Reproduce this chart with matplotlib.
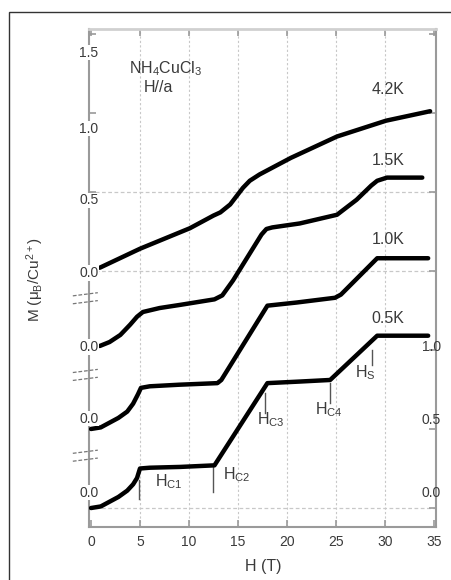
import matplotlib
matplotlib.use("Agg")
import matplotlib.pyplot as plt
from matplotlib.patches import Rectangle
from matplotlib.transforms import blended_transform_factory

plt.rcParams["font.family"] = ["Liberation Sans", "DejaVu Sans"]
plt.rcParams["mathtext.fontset"] = "custom"
plt.rcParams["mathtext.rm"] = "Liberation Sans"
plt.rcParams["mathtext.it"] = "Liberation Sans:italic"

TEXT = "#3a3a3a"
SPINE = "#9a9a9a"
GRID = "#c8c8c8"

# magnetization M (mu_B/Cu2+) against field H (T)
h_05 = [0.0, 1.0, 1.9, 2.8, 3.7, 4.3, 4.7, 5.0, 6.0, 9.1, 12.6, 18.0, 21.3, 24.4, 29.2, 34.4]
m_05 = [0.0, 0.01, 0.04, 0.07, 0.11, 0.15, 0.19, 0.25, 0.255, 0.26, 0.27, 0.79, 0.80, 0.81, 1.09, 1.09]

h_10 = [0.0, 1.0, 1.9, 2.8, 3.7, 4.3, 4.8, 5.1, 6.0, 9.0, 12.9, 13.3, 18.0, 21.0, 24.9, 25.5, 29.2, 34.4]
m_10 = [0.0, 0.01, 0.04, 0.07, 0.11, 0.16, 0.22, 0.26, 0.27, 0.28, 0.29, 0.31, 0.78, 0.80, 0.83, 0.85, 1.08, 1.08]

h_15 = [0.9, 1.9, 3.0, 4.0, 4.7, 5.3, 7.0, 9.1, 12.6, 13.4, 14.5, 17.4, 17.9, 18.5, 21.3, 25.1, 27.1, 28.6, 29.2, 30.2, 33.8]
m_15 = [0.025, 0.05, 0.095, 0.16, 0.21, 0.24, 0.265, 0.285, 0.32, 0.345, 0.44, 0.73, 0.765, 0.775, 0.80, 0.855, 0.95, 1.04, 1.07, 1.09, 1.09]

h_42 = [0.9, 5.0, 10.1, 12.5, 13.2, 14.2, 15.5, 16.2, 17.2, 20.4, 25.1, 30.1, 34.6]
m_42 = [0.02, 0.14, 0.27, 0.35, 0.37, 0.42, 0.525, 0.57, 0.61, 0.715, 0.85, 0.95, 1.01]

curves = [(h_05, m_05), (h_10, m_10), (h_15, m_15), (h_42, m_42)]
temps = ["0.5K", "1.0K", "1.5K", "4.2K"]
offsets = [0.0, 0.5, 1.0, 1.5]
temp_label_y = [1.20, 1.70, 2.20, 2.65]

# critical fields marked under the 0.5K curve
crit_names = ["H$_{\\mathrm{C1}}$", "H$_{\\mathrm{C2}}$", "H$_{\\mathrm{C3}}$", "H$_{\\mathrm{C4}}$", "H$_{\\mathrm{S}}$"]
crit_h = [4.9, 12.45, 17.75, 24.4, 28.7]
crit_top = [0.18, 0.262, 0.729, 0.792, 1.0]
crit_bot = [0.054, 0.104, 0.603, 0.666, 0.905]
crit_text_h = [6.5, 13.5, 16.9, 22.9, 26.9]
crit_text_m = [0.167, 0.211, 0.558, 0.621, 0.855]

left_labels = ["1.5", "1.0", "0.5", "0.0", "0.0", "0.0", "0.0"]
left_label_y = [2.88, 2.40, 1.946, 1.486, 1.019, 0.565, 0.098]
right_labels = ["1.0", "0.5", "0.0"]
right_label_y = [1.019, 0.558, 0.098]
break_y = [1.327, 0.842, 0.331]

x_ticks = [0, 5, 10, 15, 20, 25, 30, 35]
y_ticks = [0.0, 0.5, 1.0, 1.5, 2.0, 2.5, 3.0]
hgrid_y = [0.0, 1.5, 2.0]

fig = plt.figure(figsize=(4.51, 5.80), dpi=100)
ax = fig.add_axes([89 / 451, 1 - 527 / 580, (436 - 89) / 451, (527 - 29) / 580])
ax.set_xlim(-0.2, 35.2)
ax.set_ylim(-0.12, 3.03)

for x in x_ticks[1:-1]:
    ax.axvline(x, color=GRID, lw=0.8, ls=(0, (2, 2)), zorder=0)
for y in hgrid_y:
    ax.axhline(y, color=GRID, lw=0.9, ls=(0, (3, 2)), zorder=0)

for (h, m), off in zip(curves, offsets):
    ax.plot(h, [v + off for v in m], color="black", lw=3.2,
            solid_joinstyle="round", solid_capstyle="round", zorder=3)

for t, y in zip(temps, temp_label_y):
    ax.text(30.3, y, t, ha="center", va="center", fontsize=11.5, color=TEXT)

ax.text(7.65, 2.78, "NH$_4$CuCl$_3$", ha="center", va="center", fontsize=11.5, color=TEXT)
ax.text(6.85, 2.66, "H//a", ha="center", va="center", fontsize=11.5, color=TEXT)

for name, h, top, bot, th, tm in zip(crit_names, crit_h, crit_top, crit_bot,
                                     crit_text_h, crit_text_m):
    ax.plot([h, h], [bot, top], color="#555555", lw=1.0, zorder=2)
    ax.text(th, tm, name, ha="left", va="center", fontsize=11.5, color=TEXT)

# spines and ticks
for side in ["left", "right", "bottom"]:
    ax.spines[side].set_color(SPINE)
    ax.spines[side].set_linewidth(1.5)
ax.spines["top"].set_color("#d0d0d0")
ax.spines["top"].set_linewidth(2.0)

ax.set_xticks(x_ticks)
ax.set_yticks(y_ticks)
ax.set_yticklabels([])
ax.tick_params(axis="both", direction="in", length=5, width=1.2, color=SPINE,
               top=True, right=True)
ax.tick_params(axis="x", labelsize=10, labelcolor=TEXT, pad=6)

lt = blended_transform_factory(ax.transAxes, ax.transData)
for lab, y in zip(left_labels, left_label_y):
    ax.text(0.0, y, lab, transform=lt, ha="center", va="center", fontsize=10,
            color=TEXT, clip_on=False,
            bbox=dict(facecolor="white", edgecolor="none", pad=0.5))
for lab, y in zip(right_labels, right_label_y):
    ax.text(34.7, y, lab, ha="center", va="center", fontsize=10, color=TEXT,
            clip_on=False)

# axis breaks on the left spine
for yc in break_y:
    for dy in (0.015, -0.035):
        ax.plot([-1.85, 0.7], [yc + dy, yc + dy + 0.02], color="#777777", lw=0.9,
                ls=(0, (3, 1.5)), clip_on=False, zorder=4)

fig.text(35 / 451, 1 - 280 / 580, "M (μ$_\\mathrm{B}$/Cu$^{2+}$)", rotation=90,
         ha="center", va="center", fontsize=11, color=TEXT)
fig.text(263 / 451, 1 - 567 / 580, "H (T)", ha="center", va="center",
         fontsize=11.5, color=TEXT)

fig.add_artist(Rectangle((9 / 451, -0.1), 1.2, 1 - 12 / 580 + 0.1,
                         transform=fig.transFigure, fill=False,
                         edgecolor="#333333", lw=1.0))

fig.savefig("out.png", dpi=100)
